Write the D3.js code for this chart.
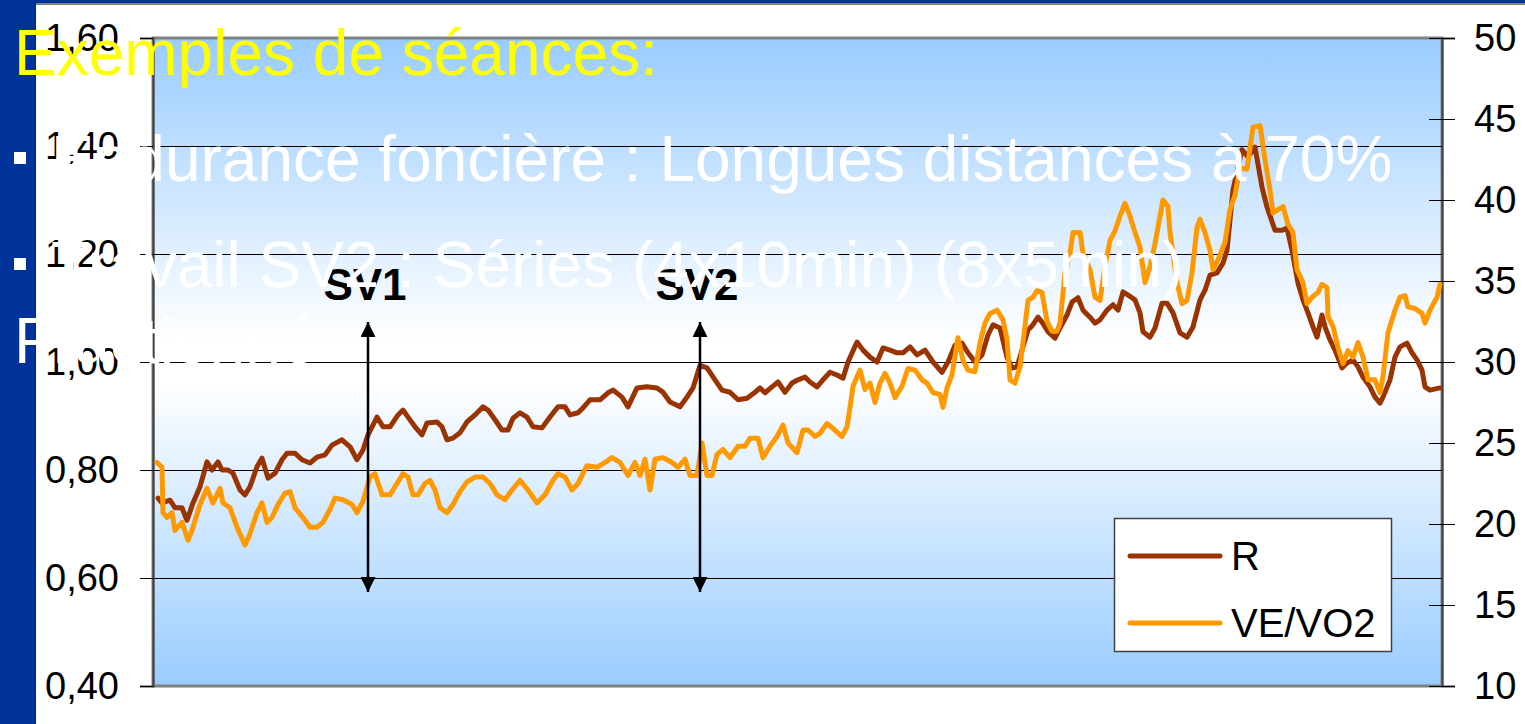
<!DOCTYPE html>
<html>
<head>
<meta charset="utf-8">
<script src="https://cdn.jsdelivr.net/npm/d3@7"></script>
<style>
  html, body { margin: 0; padding: 0; background: #ffffff; overflow: hidden; }
  svg { display: block; }
</style>
</head>
<body>
<div id="chart"></div>
<script>

// ---------- data ----------
const leftTicks  = [0.40, 0.60, 0.80, 1.00, 1.20, 1.40, 1.60];
const rightTicks = [10, 15, 20, 25, 30, 35, 40, 45, 50];
const seriesNames = ["R", "VE/VO2"];

// time (s) and R (left axis)
const rTime = [3,7,15,20,27,32,38,45,52,57,63,67,73,78,85,90,95,102,107,113,120,127,132,140,147,155,162,170,177,187,195,202,208,213,222,228,235,243,248,253,260,267,272,282,287,292,298,305,312,320,328,333,340,347,353,358,365,372,378,387,395,403,410,415,423,428,435,445,453,458,467,473,482,492,502,508,515,525,532,538,545,552,560,567,575,583,592,600,605,610,617,623,630,637,643,650,655,662,668,675,682,688,693,702,708,715,722,728,735,742,748,755,762,770,778,787,793,800,807,813,820,827,833,838,845,852,857,862,868,873,878,883,887,893,900,905,912,917,923,928,935,940,945,952,958,963,968,973,980,985,988,995,1000,1007,1012,1018,1025,1032,1038,1045,1050,1055,1062,1068,1072,1078,1087,1093,1100,1107,1112,1120,1127,1132,1137,1143,1148,1153,1158,1162,1167,1170,1175,1180,1187,1192,1198,1203,1208,1215,1220,1225,1228,1235,1240,1245,1252,1257,1262,1267,1270,1275,1285];
const rValues = [0.748,0.739,0.744,0.730,0.730,0.707,0.739,0.769,0.815,0.800,0.815,0.800,0.800,0.794,0.763,0.754,0.769,0.806,0.822,0.785,0.794,0.819,0.831,0.831,0.819,0.813,0.824,0.828,0.846,0.856,0.843,0.819,0.837,0.865,0.898,0.880,0.880,0.902,0.911,0.898,0.880,0.865,0.887,0.889,0.880,0.856,0.859,0.869,0.889,0.902,0.917,0.911,0.893,0.874,0.874,0.896,0.906,0.898,0.880,0.878,0.898,0.917,0.917,0.902,0.906,0.915,0.930,0.930,0.943,0.948,0.935,0.917,0.952,0.954,0.952,0.944,0.926,0.917,0.935,0.952,0.994,0.989,0.967,0.948,0.944,0.930,0.933,0.944,0.952,0.943,0.954,0.963,0.944,0.961,0.967,0.972,0.963,0.954,0.967,0.981,0.976,0.970,1.000,1.037,1.022,1.009,1.000,1.026,1.022,1.017,1.017,1.028,1.013,1.022,1.000,0.981,1.000,1.031,1.035,1.017,1.000,1.013,1.050,1.069,1.063,1.009,0.989,0.991,1.028,1.059,1.069,1.083,1.074,1.056,1.044,1.063,1.087,1.111,1.119,1.096,1.083,1.072,1.078,1.096,1.106,1.096,1.130,1.124,1.115,1.091,1.056,1.046,1.063,1.109,1.109,1.091,1.054,1.046,1.065,1.115,1.133,1.161,1.165,1.183,1.207,1.319,1.393,1.380,1.398,1.324,1.287,1.244,1.244,1.248,1.207,1.146,1.115,1.091,1.065,1.046,1.087,1.065,1.041,1.022,0.989,0.998,1.004,0.991,0.972,0.954,0.935,0.924,0.935,0.967,1.009,1.028,1.035,1.017,1.004,0.985,0.954,0.948,0.952];

// time (s) and VE/VO2 (right axis)
const veTime = [2,7,8,12,17,20,27,33,37,45,52,58,65,68,75,82,90,95,102,107,112,117,123,130,135,140,148,155,162,168,175,180,188,197,202,208,215,220,227,235,242,248,253,258,263,270,275,280,285,292,298,305,312,320,328,335,342,350,357,365,373,382,390,398,403,410,417,423,432,442,450,457,465,473,480,485,490,495,500,508,517,523,530,535,542,547,552,557,562,568,575,583,590,595,603,608,615,622,628,633,642,648,653,660,665,672,678,687,692,695,698,705,710,715,720,725,730,735,740,747,753,760,767,772,778,785,788,792,797,803,808,813,820,825,830,835,842,848,852,855,860,865,868,873,878,882,887,892,897,902,905,910,915,918,925,928,935,940,945,950,955,960,965,970,975,980,985,990,995,1000,1005,1008,1013,1015,1022,1027,1032,1037,1042,1045,1050,1055,1058,1063,1070,1075,1080,1085,1092,1098,1105,1110,1115,1118,1128,1133,1138,1142,1148,1152,1157,1163,1167,1172,1173,1178,1183,1188,1193,1198,1203,1208,1213,1220,1225,1228,1233,1240,1245,1250,1253,1260,1267,1270,1275,1282,1285];
const veValues = [23.8,23.5,20.7,20.4,20.7,19.6,20.1,19.0,19.6,21.2,22.2,21.3,22.2,21.3,21.0,19.8,18.7,19.4,20.7,21.3,20.1,20.4,21.2,21.9,22.0,21.0,20.4,19.8,19.8,20.1,20.9,21.6,21.5,21.2,20.7,21.4,22.9,23.1,21.8,21.8,22.5,23.1,22.9,21.8,21.8,22.5,22.7,22.1,21.0,20.7,21.2,22.0,22.6,22.9,22.9,22.5,21.8,21.5,22.1,22.7,22.1,21.3,21.8,22.7,23.1,22.9,22.1,22.5,23.6,23.5,23.8,24.1,23.8,23.0,23.8,23.0,24.0,22.1,24.0,24.1,23.8,23.5,24.0,23.0,23.0,25.0,23.0,23.0,24.3,24.6,24.1,24.8,24.8,25.3,25.3,24.1,24.8,25.4,26.1,25.0,24.4,25.8,25.8,25.4,25.6,26.2,25.9,25.4,26.0,27.2,28.5,29.5,28.3,28.7,27.5,28.7,29.3,28.7,27.8,28.5,29.6,29.5,28.9,28.7,28.1,28.0,27.2,28.4,29.2,31.5,30.1,29.5,29.4,31.2,32.4,33.0,33.2,32.6,31.4,28.9,28.7,29.7,31.2,33.8,34.0,34.4,34.3,32.5,31.9,31.9,32.4,35.5,36.7,38.0,38.0,36.7,35.7,34.0,33.8,35.9,37.5,38.1,39.0,39.8,39.0,38.0,37.1,34.9,35.9,37.3,39.0,40.0,39.6,38.0,34.9,33.6,33.8,35.5,38.3,38.8,38.0,36.9,35.7,36.3,37.4,39.4,40.3,42.0,41.9,44.5,44.6,42.5,40.6,39.2,39.6,38.5,38.0,35.7,34.9,33.6,34.0,34.3,34.8,34.6,32.8,32.2,30.9,29.9,30.7,30.3,31.2,30.3,28.9,28.9,28.1,29.1,31.8,33.2,34.0,34.1,33.4,33.3,33.0,32.4,33.2,34.0,34.8];

// threshold annotations (time, arrow range on R axis)
const thresholdLabels = ["SV1", "SV2"];
const thresholdTimes  = [213, 545];
const arrowRange      = [0.574, 1.074];
const labelLevel      = 1.115;

// slide text over the chart
const slideTitle = "Exemples de séances:";
const slideBullets = [
  "Endurance foncière : Longues distances à 70%",
  "Travail SV2 : Séries (4x10min) (8x5min)"
];
const slideFooter = "Fractionné";

// ---------- layout ----------
const W = 1525, H = 724;
const plot = { left: 153, right: 1442, top: 38, bottom: 686 };
const font = "'Liberation Sans', Arial, Helvetica, sans-serif";
const colR = "#993300", colVE = "#FF9900";

const svg = d3.select("#chart").append("svg")
  .attr("width", W).attr("height", H);

const x = d3.scaleLinear().domain([0, 1285]).range([plot.left + 2, plot.right - 2]);
const yL = d3.scaleLinear().domain([0.4, 1.6]).range([plot.bottom, plot.top]);
const yR = d3.scaleLinear().domain([10, 50]).range([plot.bottom, plot.top]);

const frFormat = d3.formatLocale({ decimal: ",", thousands: " ", grouping: [3], currency: ["", "€"] }).format(".2f");

// slide background
svg.append("rect").attr("x", 0).attr("y", 0).attr("width", W).attr("height", H).attr("fill", "#ffffff");
svg.append("rect").attr("x", 0).attr("y", 0).attr("width", W).attr("height", 3).attr("fill", "#003399");
svg.append("line").attr("x1", 36).attr("x2", W).attr("y1", 4).attr("y2", 4).attr("stroke", "#555").attr("stroke-width", 1.5);
svg.append("rect").attr("x", 0).attr("y", 0).attr("width", 35).attr("height", H).attr("fill", "#003399");
svg.append("line").attr("x1", 35.5).attr("x2", 35.5).attr("y1", 3).attr("y2", H).attr("stroke", "#222").attr("stroke-width", 1);

// plot area gradient (blue - white - blue)
const defs = svg.append("defs");
const grad = defs.append("linearGradient").attr("id", "bg").attr("x1", 0).attr("x2", 0).attr("y1", 0).attr("y2", 1);
grad.append("stop").attr("offset", "0%").attr("stop-color", "#99CCFF");
grad.append("stop").attr("offset", "47%").attr("stop-color", "#FFFFFF");
grad.append("stop").attr("offset", "53%").attr("stop-color", "#FFFFFF");
grad.append("stop").attr("offset", "100%").attr("stop-color", "#99CCFF");

svg.append("rect")
  .attr("x", plot.left).attr("y", plot.top)
  .attr("width", plot.right - plot.left).attr("height", plot.bottom - plot.top)
  .attr("fill", "url(#bg)")
  .attr("stroke", "#808080").attr("stroke-width", 3);

// gridlines
svg.append("g").selectAll("line")
  .data(leftTicks.slice(1, -1))
  .join("line")
  .attr("x1", plot.left).attr("x2", plot.right)
  .attr("y1", d => Math.round(yL(d)) + 0.5).attr("y2", d => Math.round(yL(d)) + 0.5)
  .attr("stroke", "#000").attr("stroke-width", 1);

// axes
const axL = svg.append("g").attr("transform", `translate(${plot.left},0)`)
  .call(d3.axisLeft(yL).tickValues(leftTicks).tickFormat(frFormat).tickSize(13).tickPadding(21));
const axR = svg.append("g").attr("transform", `translate(${plot.right},0)`)
  .call(d3.axisRight(yR).tickValues(rightTicks).tickSize(13).tickPadding(19));
axR.selectAll(".tick line").attr("x1", -13);
[axL, axR].forEach(a => {
  a.select(".domain").attr("stroke", "#404040").attr("stroke-width", 2);
  a.selectAll(".tick line").attr("stroke", "#000");
  a.selectAll("text").attr("font-family", font).attr("font-size", 38).attr("fill", "#000");
});

// series
const lineR = d3.line().x((d, i) => x(rTime[i])).y(d => yL(d));
const lineVE = d3.line().x((d, i) => x(veTime[i])).y(d => yR(d));

svg.append("path").datum(rValues)
  .attr("d", lineR).attr("fill", "none").attr("stroke", colR)
  .attr("stroke-width", 5).attr("stroke-linejoin", "round").attr("stroke-linecap", "round");
svg.append("path").datum(veValues)
  .attr("d", lineVE).attr("fill", "none").attr("stroke", colVE)
  .attr("stroke-width", 5).attr("stroke-linejoin", "round").attr("stroke-linecap", "round");

// threshold arrows
defs.append("marker").attr("id", "ah").attr("viewBox", "0 0 10 10")
  .attr("refX", 10).attr("refY", 5).attr("markerWidth", 6).attr("markerHeight", 6)
  .attr("markerUnits", "strokeWidth").attr("orient", "auto-start-reverse")
  .append("path").attr("d", "M0,0 L10,5 L0,10 Z").attr("fill", "#000");

const thr = svg.append("g").selectAll("g").data(thresholdLabels).join("g");
thr.append("line")
  .attr("x1", (d, i) => x(thresholdTimes[i])).attr("x2", (d, i) => x(thresholdTimes[i]))
  .attr("y1", yL(arrowRange[0])).attr("y2", yL(arrowRange[1]))
  .attr("stroke", "#000").attr("stroke-width", 2.5)
  .attr("marker-start", "url(#ah)").attr("marker-end", "url(#ah)");
thr.append("text")
  .attr("x", (d, i) => x(thresholdTimes[i]) - 3).attr("y", yL(labelLevel))
  .attr("text-anchor", "middle")
  .attr("font-family", font).attr("font-weight", "bold").attr("font-size", 44)
  .attr("fill", "#000").text(d => d);

// legend
const lg = svg.append("g").attr("transform", "translate(1114,518)");
lg.append("rect").attr("x", 0.5).attr("y", 0.5).attr("width", 277).attr("height", 133)
  .attr("fill", "#fff").attr("stroke", "#404040").attr("stroke-width", 1.5);
const lgItems = lg.selectAll("g").data(seriesNames).join("g")
  .attr("transform", (d, i) => `translate(0,${38 + i * 67})`);
lgItems.append("line").attr("x1", 16).attr("x2", 106).attr("y1", 0).attr("y2", 0)
  .attr("stroke", (d, i) => i === 0 ? colR : colVE).attr("stroke-width", 5).attr("stroke-linecap", "round");
lgItems.append("text").attr("x", 117).attr("y", 0).attr("dy", "0.35em")
  .attr("font-family", font).attr("font-size", 40).attr("fill", "#000").text(d => d);

// slide text (on top of everything)
const txt = svg.append("g").attr("font-family", font).attr("font-size", 64);
txt.append("text").attr("x", 14).attr("y", 75).attr("fill", "#FFFF00").text(slideTitle);
const bl = txt.selectAll("g.b").data(slideBullets).join("g").attr("class", "b")
  .attr("transform", (d, i) => `translate(0,${181 + i * 106})`);
bl.append("rect").attr("x", 14).attr("y", -29).attr("width", 12).attr("height", 12).attr("fill", "#fff");
bl.append("text").attr("x", 51).attr("y", 0).attr("fill", "#fff").text(d => d);
txt.append("text").attr("x", 14).attr("y", 363).attr("fill", "#fff").text(slideFooter);

</script>
</body>
</html>
